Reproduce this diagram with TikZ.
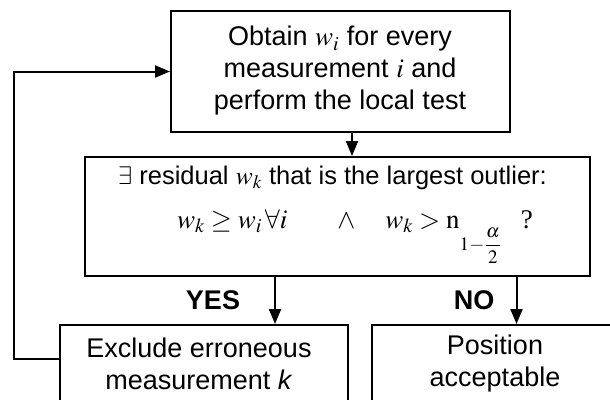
\documentclass[tikz,border=0pt]{standalone}
\usepackage{mathptmx}
\usepackage{fontspec}
\setmainfont{Liberation Sans}
\newfontfamily\serifq{Liberation Serif}
\usetikzlibrary{arrows.meta,calc}
\tikzset{
  boxed/.style={draw, line width=2pt, rectangle, inner sep=0pt},
  txt/.style={align=center, font=\fontsize{27}{32}\selectfont, inner sep=0pt},
  lbl/.style={font=\fontsize{27}{32}\selectfont\bfseries, inner sep=0pt},
  arr/.style={line width=2pt, -{Triangle[length=15pt,width=12pt]}}
}
\begin{document}
\begin{tikzpicture}[x=1pt,y=-1pt]
\useasboundingbox (0,0) rectangle (610,399);
\clip (0,0) rectangle (610,399);
\node[boxed, minimum width=339pt, minimum height=121pt] (top) at (340.5,71.5) {};
\node[txt] (toptxt) at (340,71) {Obtain $w_i$ for every\\measurement $i$ and\\perform the local test};
\node[boxed, minimum width=505pt, minimum height=119pt] (box2) at (337,216.5) {};
\node[txt, font=\fontsize{25.5}{30}\selectfont] (l1) at (332.5,178) {$\exists$ residual $w_k$ that is the largest outlier:};
\node[txt, anchor=base west] (l2) at (177,228) {$w_k \geq w_i\,\forall i$\hspace{50pt}$\wedge$\hspace{30pt}$w_k > \mathrm{n}$\raisebox{-22pt}{\fontsize{19}{19}\selectfont$1\!-\!{\displaystyle\frac{\alpha}{2}}$}\hspace{20pt}{\serifq ?}};
\node[boxed, minimum width=288pt, minimum height=100pt] (left) at (204,375) {};
\node[txt] (lefttxt) at (199,364) {Exclude erroneous\\measurement \textit{k}};
\node[boxed, minimum width=250pt, minimum height=100pt] (right) at (497,375) {};
\node[txt] (righttxt) at (495,364) {Position\\acceptable};
\node[lbl] (yes) at (213,300) {YES};
\node[lbl] (no) at (474,300) {NO};
\coordinate (tx) at (352,0);
\coordinate (yx) at (275,0);
\coordinate (nx) at (516.5,0);
\coordinate (fb) at (0,359);
\coordinate (fbx) at (13.5,0);
\draw[arr] (top.south -| tx) -- (box2.north -| tx);
\draw[arr] (box2.south -| yx) -- (left.north -| yx);
\draw[arr] (box2.south -| nx) -- (right.north -| nx);
\draw[arr] (left.west |- fb) -- (fbx |- fb) |- (top.west);
\end{tikzpicture}
\end{document}
